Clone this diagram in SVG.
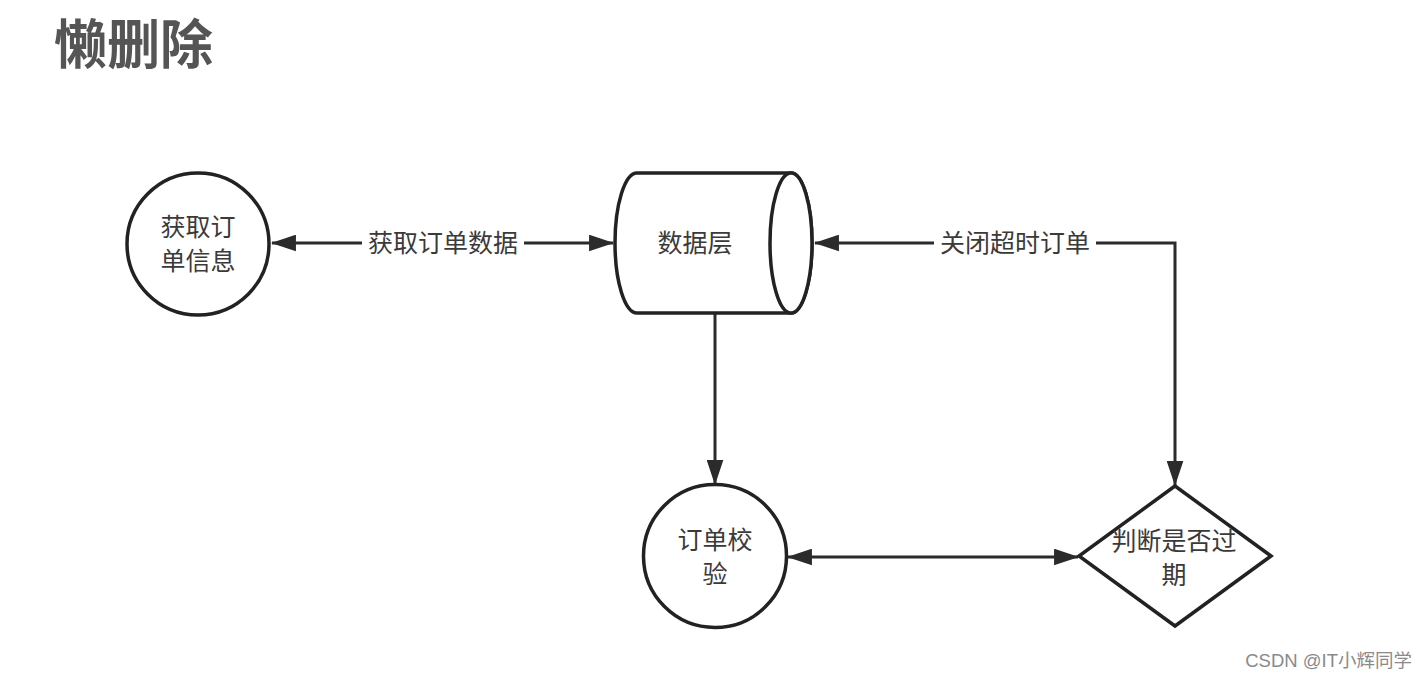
<svg xmlns="http://www.w3.org/2000/svg" width="1426" height="680" viewBox="0 0 1426 680">
  <defs>
    <marker id="arr" viewBox="0 0 24 16" markerWidth="25" markerHeight="17" refX="23" refY="8" orient="auto-start-reverse" markerUnits="userSpaceOnUse">
      <path d="M0,0 L24,8 L0,16 z" fill="#2b2b2b"/>
    </marker>
    <style>
      .shape { fill: #ffffff; stroke: #222222; stroke-width: 3.5; }
      .conn { fill: none; stroke: #2b2b2b; stroke-width: 3; }
      .lbl { font-family: "Noto Sans CJK SC", "Noto Sans", sans-serif; font-size: 25px; fill: #3a3a3a; text-anchor: middle; }
      .bg { fill: #ffffff; stroke: none; }
    </style>
  </defs>
  <rect width="1426" height="680" fill="#ffffff"/>

  <text x="54" y="64" font-family="Noto Sans CJK SC, sans-serif" font-size="53" font-weight="bold" fill="#555555">懒删除</text>

  <g id="connectors">
    <line class="conn" x1="272" y1="243" x2="613" y2="243" marker-start="url(#arr)" marker-end="url(#arr)"/>
    <rect class="bg" x="362" y="226" width="162" height="34"/>
    <text class="lbl" x="443" y="252">获取订单数据</text>

    <polyline class="conn" points="815,243 1175,243 1175,485" marker-start="url(#arr)" marker-end="url(#arr)"/>
    <rect class="bg" x="934" y="226" width="162" height="34"/>
    <text class="lbl" x="1015" y="252">关闭超时订单</text>

    <line class="conn" x1="715" y1="314" x2="715" y2="484" marker-end="url(#arr)"/>

    <line class="conn" x1="788" y1="557" x2="1078" y2="557" marker-start="url(#arr)" marker-end="url(#arr)"/>
  </g>

  <g id="node-get-order">
    <circle class="shape" cx="198" cy="244" r="71"/>
    <text class="lbl"><tspan x="198" y="236">获取订</tspan><tspan x="198" y="269.5">单信息</tspan></text>
  </g>

  <g id="node-data-layer">
    <path class="shape" d="M637,173 L791,173 A21,70 0 0 1 791,313 L637,313 A22,70 0 0 1 637,173 Z"/>
    <ellipse class="shape" cx="791" cy="243" rx="21" ry="70"/>
    <text class="lbl" x="695" y="252">数据层</text>
  </g>

  <g id="node-check">
    <circle class="shape" cx="715" cy="556" r="71.5"/>
    <text class="lbl"><tspan x="715" y="549">订单校</tspan><tspan x="715" y="582.5">验</tspan></text>
  </g>

  <g id="node-expired">
    <polygon class="shape" points="1175,486 1271,556 1175,626 1079,556"/>
    <text class="lbl"><tspan x="1174" y="550">判断是否过</tspan><tspan x="1174" y="583.5">期</tspan></text>
  </g>

  <text x="1412" y="667" text-anchor="end" font-family="Liberation Sans, Noto Sans CJK SC, sans-serif" font-size="18.5" fill="#8a8a8a">CSDN @IT小辉同学</text>
</svg>
